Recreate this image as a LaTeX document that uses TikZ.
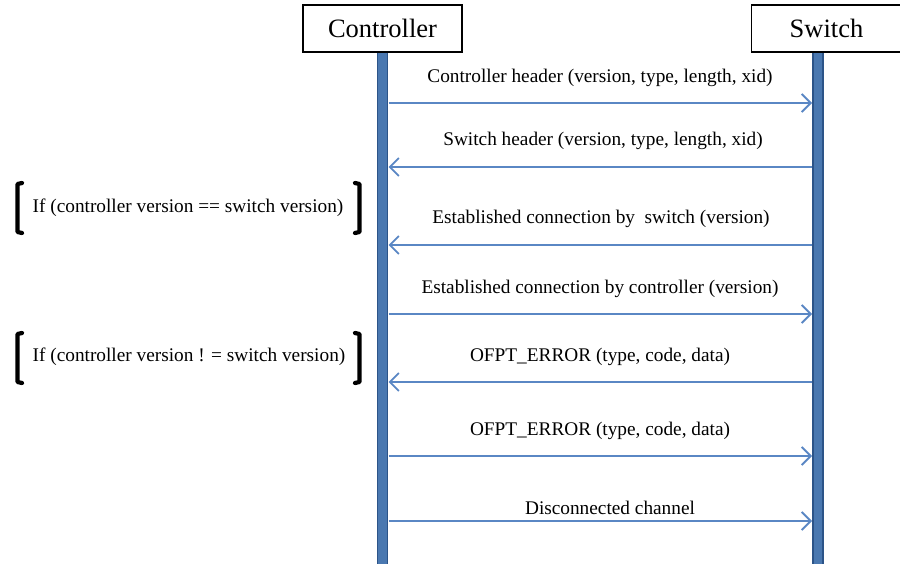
\documentclass[tikz,border=0pt]{standalone}
\usepackage{fontspec}
\setmainfont{Liberation Serif}
\usetikzlibrary{arrows.meta}
\definecolor{lifefill}{HTML}{4A78B0}
\definecolor{lifeedge}{HTML}{2C5488}
\definecolor{msgcol}{HTML}{5A87C4}
\begin{document}
\begin{tikzpicture}[x=1pt,y=-1pt,
  hdr/.style={draw=black,line width=1.6pt,fill=white,inner sep=0pt,font=\fontsize{26.5}{30}\selectfont},
  lifeline/.style={fill=lifefill,draw=lifeedge,line width=1.4pt},
  msg/.style={draw=msgcol,line width=1.8pt,-{Straight Barb[length=9pt,width=18pt]}},
  lbl/.style={inner sep=0pt,font=\fontsize{19.3}{23}\selectfont},
  brk/.style={line width=4.2pt,line cap=round,line join=round},
  cond/.style={inner sep=0pt,font=\fontsize{19.3}{23}\selectfont}]
\useasboundingbox (0,0) rectangle (900,564);
% lifelines
\fill[lifeline] (377.5,52) rectangle (387.5,566);
\fill[lifeline] (813,52) rectangle (823,566);
% headers
\node[hdr,minimum width=159pt,minimum height=47pt] (ctrl) at (382.5,28.5) {Controller};
\node[hdr,minimum width=150pt,minimum height=47pt] (sw) at (826.5,28.5) {Switch};
% anchor coordinates on lifelines
\foreach \i/\y in {1/103,2/167,3/245,4/314,5/382,6/456,7/521}{
  \coordinate (c\i) at (388.5,\y);
  \coordinate (s\i) at (812,\y);
}
% messages
\draw[msg] (c1) -- (s1);
\draw[msg] (s2) -- (c2);
\draw[msg] (s3) -- (c3);
\draw[msg] (c4) -- (s4);
\draw[msg] (s5) -- (c5);
\draw[msg] (c6) -- (s6);
\draw[msg] (c7) -- (s7);
% labels
\node[lbl] (l1) at (600,78) {Controller header (version, type, length, xid)};
\node[lbl] (l2) at (603,141) {Switch header (version, type, length, xid)};
\node[lbl] (l3) at (601,219) {Established connection by\ \ switch (version)};
\node[lbl] (l4) at (600,289) {Established connection by controller (version)};
\node[lbl] (l5) at (600,357) {OFPT\_ERROR (type, code, data)};
\node[lbl] (l6) at (600,431) {OFPT\_ERROR (type, code, data)};
\node[lbl] (l7) at (610,508) {Disconnected channel};
% conditions
\node[cond] (k1) at (188,208) {If (controller version == switch version)};
\draw[brk] (22,183) -- (17.5,184) -- (17.5,232) -- (22,233);
\draw[brk] (355,183) -- (359.5,184) -- (359.5,232) -- (355,233);
\node[cond] (k2) at (189,357) {If (controller version ! = switch version)};
\draw[brk] (22,333) -- (17.5,334) -- (17.5,382) -- (22,383);
\draw[brk] (355,333) -- (359.5,334) -- (359.5,382) -- (355,383);
\end{tikzpicture}
\end{document}
